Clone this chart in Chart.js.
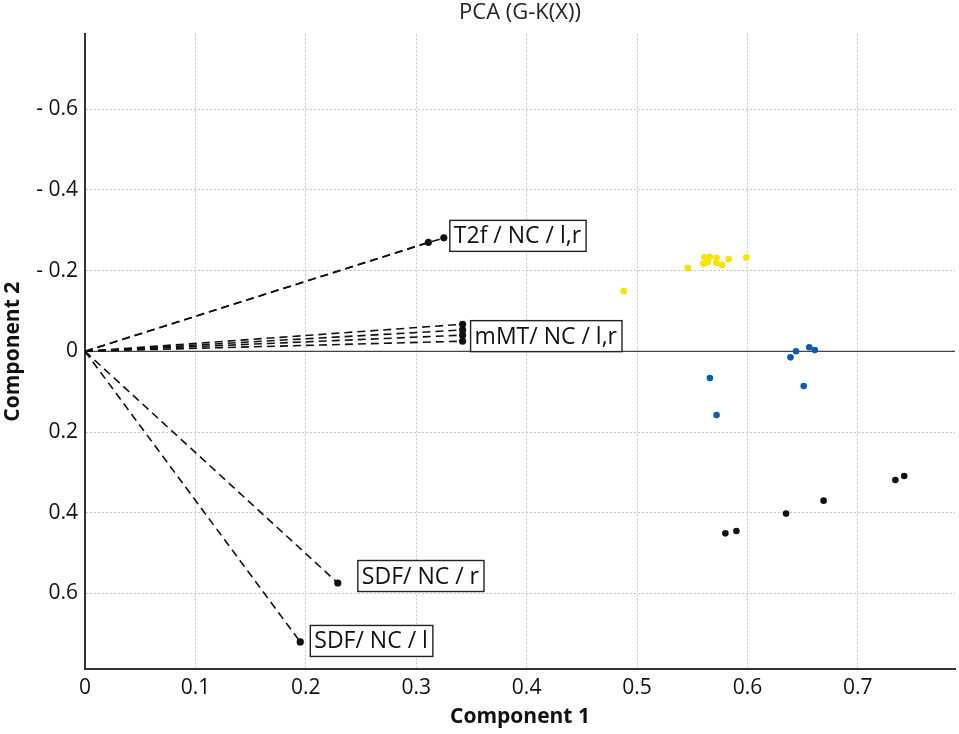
<!DOCTYPE html>
<html>
<head>
<meta charset="utf-8">
<title>PCA (G-K(X))</title>
<script src="https://cdn.jsdelivr.net/npm/chart.js@4.4.1/dist/chart.umd.min.js"></script>
<style>
    html, body { margin: 0; padding: 0; background: #fff; }
    #wrap { width: 959px; height: 734px; position: relative; }
</style>
</head>
<body>
<div id="wrap"><canvas id="myChart"></canvas></div>
<script>
// scores (Component 1, Component 2)
const yellowX = [0.488, 0.546, 0.560, 0.561, 0.564, 0.566, 0.572, 0.572, 0.577, 0.583, 0.599];
const yellowY = [-0.149, -0.206, -0.217, -0.233, -0.221, -0.234, -0.231, -0.219, -0.214, -0.228, -0.232];
const blueX = [0.639, 0.644, 0.656, 0.661, 0.566, 0.572, 0.651];
const blueY = [0.015, 0.000, -0.010, -0.003, 0.066, 0.158, 0.086];
const blackX = [0.580, 0.590, 0.635, 0.669, 0.734, 0.742];
const blackY = [0.451, 0.445, 0.402, 0.370, 0.319, 0.309];

// loadings (dashed lines from the origin)
const loadX = [0.311, 0.325, 0.342, 0.342, 0.342, 0.342, 0.229, 0.195];
const loadY = [-0.270, -0.281, -0.067, -0.053, -0.040, -0.025, 0.574, 0.720];
const labelText = ['T2f / NC / l,r', 'mMT/ NC / l,r', 'SDF/ NC / r', 'SDF/ NC / l'];
const labelAnchor = [1, 4, 6, 7];

const xTicks = [0, 0.1, 0.2, 0.3, 0.4, 0.5, 0.6, 0.7];
const yTicks = [-0.6, -0.4, -0.2, 0, 0.2, 0.4, 0.6];

const FONT = "'Open Sans', 'Noto Sans', sans-serif";

function pts(xs, ys) {
    return xs.map((x, i) => ({ x: x, y: ys[i] }));
}

var datasets = [];
loadX.forEach((x, i) => {
    datasets.push({
        type: 'line',
        data: [{ x: 0, y: 0 }, { x: x, y: loadY[i] }],
        borderColor: '#111',
        borderWidth: 1.6,
        borderDash: [8, 5],
        pointRadius: 0,
        fill: false
    });
});
datasets.push({ data: pts(loadX, loadY), backgroundColor: '#111', borderWidth: 0, pointRadius: 3.6 });
datasets.push({ data: pts(yellowX, yellowY), backgroundColor: '#f5e400', borderWidth: 0, pointRadius: 3.3 });
datasets.push({ data: pts(blueX, blueY), backgroundColor: '#0b5cad', borderWidth: 0, pointRadius: 3.3 });
datasets.push({ data: pts(blackX, blackY), backgroundColor: '#111', borderWidth: 0, pointRadius: 3.3 });

// solid line at Component 2 = 0
const zeroLine = {
    id: 'zeroLine',
    beforeDatasetsDraw(chart) {
        const ctx = chart.ctx, a = chart.chartArea;
        const y = chart.scales.y.getPixelForValue(0);
        ctx.save();
        ctx.strokeStyle = '#444';
        ctx.lineWidth = 1.3;
        ctx.beginPath();
        ctx.moveTo(a.left, y);
        ctx.lineTo(a.right, y);
        ctx.stroke();
        ctx.restore();
    }
};

// boxed labels next to the loadings
const boxDx = [6, 8, 20, 10];
const boxDy = [-2, 1, -7, -1];
const boxLabels = {
    id: 'boxLabels',
    afterDatasetsDraw(chart) {
        const ctx = chart.ctx;
        ctx.save();
        ctx.font = '23px ' + FONT;
        ctx.textBaseline = 'middle';
        labelText.forEach((t, i) => {
            const k = labelAnchor[i];
            const px = chart.scales.x.getPixelForValue(loadX[k]) + boxDx[i];
            const py = chart.scales.y.getPixelForValue(loadY[k]) + boxDy[i];
            const w = ctx.measureText(t).width + 9;
            const h = 31;
            ctx.fillStyle = '#fff';
            ctx.fillRect(px, py - h / 2, w, h);
            ctx.strokeStyle = '#222';
            ctx.lineWidth = 1.4;
            ctx.strokeRect(px, py - h / 2, w, h);
            ctx.fillStyle = '#111';
            ctx.fillText(t, px + 4, py + 1);
        });
        ctx.restore();
    }
};

var ctx = document.getElementById('myChart');
new Chart(ctx.getContext('2d'), {
    type: 'scatter',
    data: { datasets: datasets },
    plugins: [zeroLine, boxLabels],
    options: {
        responsive: true, maintainAspectRatio: false,
        animation: false,
        layout: { padding: { left: 0, right: 3, top: 0, bottom: 0 } },
        plugins: {
            legend: { display: false },
            tooltip: { enabled: false },
            title: {
                display: true,
                fullSize: false,
                text: 'PCA (G-K(X))',
                color: '#222',
                font: { family: FONT, size: 22, weight: 'normal' },
                padding: { top: 0, bottom: 8 }
            }
        },
        scales: {
            x: {
                type: 'linear', min: 0, max: 0.788,
                afterBuildTicks: (s) => { s.ticks = xTicks.map(v => ({ value: v })); },
                afterFit: (s) => { s.height = 65; },
                ticks: {
                    color: '#111', padding: 6,
                    font: { family: FONT, size: 21 },
                    callback: (v) => String(Math.round(v * 10) / 10)
                },
                grid: { color: '#c4c4c4', lineWidth: 1, drawTicks: false },
                border: { color: '#333', width: 2, dash: [2, 2] },
                title: {
                    display: true, text: 'Component 1', color: '#111',
                    font: { family: FONT, size: 21, weight: 'bold' },
                    padding: { top: 0, bottom: 4 }
                }
            },
            y: {
                type: 'linear', min: -0.785, max: 0.787, reverse: true,
                afterBuildTicks: (s) => { s.ticks = yTicks.map(v => ({ value: v })); },
                afterFit: (s) => { s.width = 85; },
                ticks: {
                    color: '#111', padding: 7,
                    font: { family: FONT, size: 21 },
                    callback: (v) => {
                        const r = Math.round(v * 10) / 10;
                        if (r < 0) return '- ' + Math.abs(r);
                        return String(r);
                    }
                },
                grid: {
                    color: (c) => (c.tick && c.tick.value === 0) ? 'rgba(0,0,0,0)' : '#c4c4c4',
                    lineWidth: 1, drawTicks: false
                },
                border: { color: '#333', width: 2, dash: [2, 2] },
                title: {
                    display: true, text: 'Component 2', color: '#111',
                    font: { family: FONT, size: 21, weight: 'bold' },
                    padding: { top: 0, bottom: 0 }
                }
            }
        }
    }
});
</script>
</body>
</html>
